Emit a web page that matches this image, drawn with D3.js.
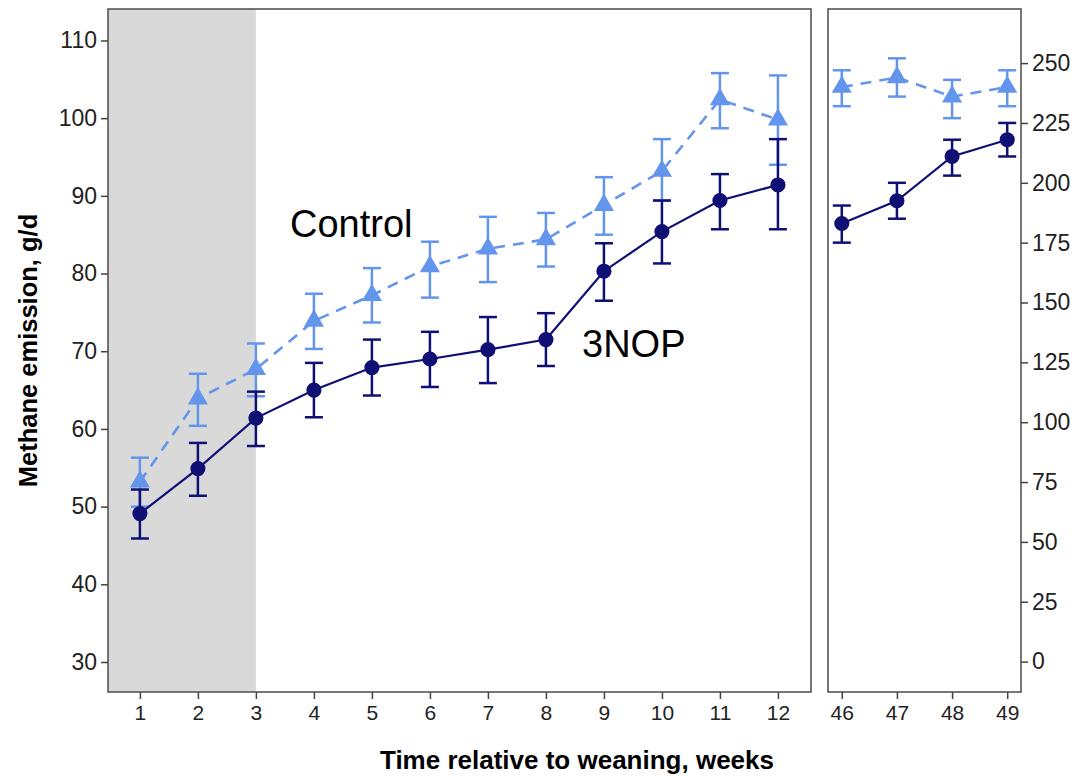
<!DOCTYPE html>
<html>
<head>
<meta charset="utf-8">
<script src="https://cdn.jsdelivr.net/npm/d3@7"></script>
<style>
    body { margin: 0; background: #fff; }
    text { font-family: "Liberation Sans", Arial, sans-serif; }
    .tick text { fill: #222; }
    .tick line { stroke: #444; stroke-width: 1.5px; }
</style>
</head>
<body>
<div id="chart"></div>
<script>

// weeks on the two panels
let weeksEarly = [1, 2, 3, 4, 5, 6, 7, 8, 9, 10, 11, 12];
let weeksLate = [46, 47, 48, 49];

// control, weeks 1-12 (left axis)
let controlEarly   = [53.2, 63.9, 67.7, 73.9, 77.2, 80.9, 83.2, 84.4, 88.8, 93.2, 102.4, 99.8];
let controlEarlyLo = [50.0, 60.4, 64.2, 70.3, 73.7, 76.9, 78.9, 80.9, 85.0, 89.4, 98.7, 94.0];
let controlEarlyHi = [56.3, 67.1, 71.0, 77.4, 80.7, 84.1, 87.3, 87.8, 92.4, 97.3, 105.8, 105.5];

// 3NOP, weeks 1-12 (left axis)
let nopEarly   = [49.1, 54.9, 61.4, 65.0, 67.9, 69.0, 70.2, 71.5, 80.3, 85.4, 89.4, 91.4];
let nopEarlyLo = [45.9, 51.4, 57.8, 61.5, 64.3, 65.4, 65.9, 68.1, 76.5, 81.3, 85.7, 85.7];
let nopEarlyHi = [52.2, 58.2, 64.8, 68.5, 71.5, 72.5, 74.4, 74.9, 83.9, 89.4, 92.8, 97.3];

// weeks 46-49 (right axis)
let controlLate   = [240, 244, 236, 240];
let controlLateLo = [232, 236, 227, 232];
let controlLateHi = [247, 252, 243, 247];
let nopLate   = [183, 192.5, 211, 218];
let nopLateLo = [175, 185, 203, 211];
let nopLateHi = [190.5, 200, 218, 225];

let leftTicks = [30, 40, 50, 60, 70, 80, 90, 100, 110];
let rightTicks = [0, 25, 50, 75, 100, 125, 150, 175, 200, 225, 250];

let navy = "#0f0f74";
let light = "#6495ed";

let width = 1080, height = 776;
let panelTop = 9, panelBottom = 692;

let svg = d3.select("#chart").append("svg")
    .attr("width", width)
    .attr("height", height);

// scales
let xEarly = d3.scaleLinear().domain([0.45, 12.57]).range([108, 811]);
let xLate = d3.scaleLinear().domain([45.75, 49.25]).range([828, 1021]);
let yLeft = d3.scaleLinear().domain([26.14, 114.05]).range([panelBottom, panelTop]);
let yRight = d3.scaleLinear().domain([-12.7, 272.6]).range([panelBottom, panelTop]);

// shaded weeks 1-3
svg.append("rect")
    .attr("x", xEarly(0.45))
    .attr("y", panelTop)
    .attr("width", xEarly(3) - xEarly(0.45))
    .attr("height", panelBottom - panelTop)
    .attr("fill", "#d9d9d9");

function makeRows(weeks, mean, lo, hi) {
    return weeks.map((w, i) => ({week: w, mean: mean[i], lo: lo[i], hi: hi[i]}));
}

function drawSeries(g, rows, x, y, color, dashed, shape) {
    let line = d3.line()
        .x(d => x(d.week))
        .y(d => y(d.mean));

    g.append("path")
        .datum(rows)
        .attr("d", line)
        .attr("fill", "none")
        .attr("stroke", color)
        .attr("stroke-width", dashed ? 2.6 : 2.2)
        .attr("stroke-dasharray", dashed ? "11,8" : null);

    // error bars
    let cap = 9;
    let bars = g.selectAll(null)
        .data(rows)
        .enter()
        .append("g")
        .attr("stroke", color)
        .attr("stroke-width", 2.5);

    bars.append("line")
        .attr("x1", d => x(d.week)).attr("x2", d => x(d.week))
        .attr("y1", d => y(d.lo)).attr("y2", d => y(d.hi));
    bars.append("line")
        .attr("x1", d => x(d.week) - cap).attr("x2", d => x(d.week) + cap)
        .attr("y1", d => y(d.lo)).attr("y2", d => y(d.lo));
    bars.append("line")
        .attr("x1", d => x(d.week) - cap).attr("x2", d => x(d.week) + cap)
        .attr("y1", d => y(d.hi)).attr("y2", d => y(d.hi));

    // points
    g.selectAll(null)
        .data(rows)
        .enter()
        .append("path")
        .attr("d", d3.symbol().type(shape).size(shape === d3.symbolTriangle ? 175 : 180))
        .attr("transform", d => "translate(" + x(d.week) + "," + y(d.mean) + ")")
        .attr("fill", color);
}

let plotG = svg.append("g");

drawSeries(plotG, makeRows(weeksEarly, controlEarly, controlEarlyLo, controlEarlyHi), xEarly, yLeft, light, true, d3.symbolTriangle);
drawSeries(plotG, makeRows(weeksEarly, nopEarly, nopEarlyLo, nopEarlyHi), xEarly, yLeft, navy, false, d3.symbolCircle);
drawSeries(plotG, makeRows(weeksLate, controlLate, controlLateLo, controlLateHi), xLate, yRight, light, true, d3.symbolTriangle);
drawSeries(plotG, makeRows(weeksLate, nopLate, nopLateLo, nopLateHi), xLate, yRight, navy, false, d3.symbolCircle);

// panel borders
svg.append("rect")
    .attr("x", xEarly.range()[0]).attr("y", panelTop)
    .attr("width", xEarly.range()[1] - xEarly.range()[0])
    .attr("height", panelBottom - panelTop)
    .attr("fill", "none").attr("stroke", "#555").attr("stroke-width", 1.6);
svg.append("rect")
    .attr("x", xLate.range()[0]).attr("y", panelTop)
    .attr("width", xLate.range()[1] - xLate.range()[0])
    .attr("height", panelBottom - panelTop)
    .attr("fill", "none").attr("stroke", "#555").attr("stroke-width", 1.6);

// axes
let axisLeft = svg.append("g")
    .attr("transform", "translate(" + xEarly.range()[0] + ",0)")
    .call(d3.axisLeft(yLeft).tickValues(leftTicks).tickSize(7).tickPadding(4));
axisLeft.select(".domain").remove();
axisLeft.selectAll("text").style("font-size", "23px");

let axisRight = svg.append("g")
    .attr("transform", "translate(" + xLate.range()[1] + ",0)")
    .call(d3.axisRight(yRight).tickValues(rightTicks).tickSize(7).tickPadding(4));
axisRight.select(".domain").remove();
axisRight.selectAll("text").style("font-size", "23px");

let axisBottomEarly = svg.append("g")
    .attr("transform", "translate(0," + panelBottom + ")")
    .call(d3.axisBottom(xEarly).tickValues(weeksEarly).tickFormat(d3.format("d")).tickSize(7).tickPadding(6));
axisBottomEarly.select(".domain").remove();
axisBottomEarly.selectAll("text").style("font-size", "21px");

let axisBottomLate = svg.append("g")
    .attr("transform", "translate(0," + panelBottom + ")")
    .call(d3.axisBottom(xLate).tickValues(weeksLate).tickFormat(d3.format("d")).tickSize(7).tickPadding(6));
axisBottomLate.select(".domain").remove();
axisBottomLate.selectAll("text").style("font-size", "21px");

// axis titles
svg.append("text")
    .attr("transform", "translate(37," + (panelTop + panelBottom) / 2 + ") rotate(-90)")
    .attr("text-anchor", "middle")
    .style("font-size", "25.5px")
    .style("font-weight", "bold")
    .text("Methane emission, g/d");

svg.append("text")
    .attr("x", 577)
    .attr("y", 769)
    .attr("text-anchor", "middle")
    .style("font-size", "26px")
    .style("font-weight", "bold")
    .text("Time relative to weaning, weeks");

// series labels
svg.append("text")
    .attr("x", 290)
    .attr("y", 237)
    .style("font-size", "38px")
    .text("Control");

svg.append("text")
    .attr("x", 582)
    .attr("y", 357)
    .style("font-size", "38px")
    .text("3NOP");

</script>
</body>
</html>
